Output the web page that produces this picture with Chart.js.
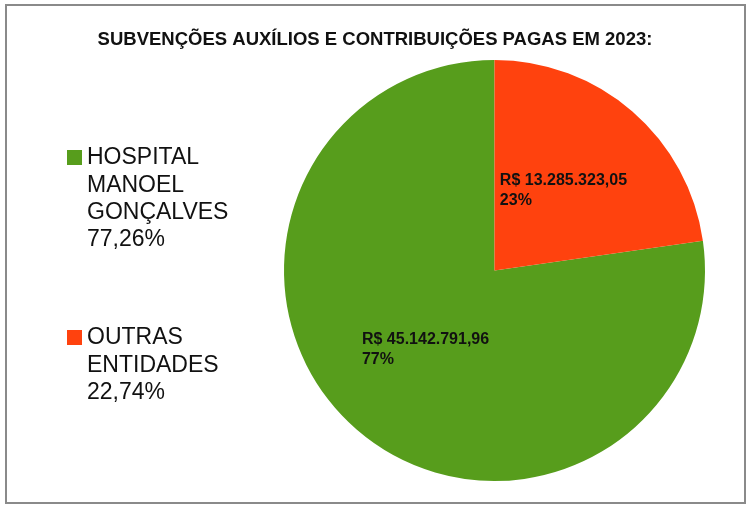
<!DOCTYPE html>
<html lang="pt-BR">
<head>
  <meta charset="UTF-8">
  <title>Subvenções auxílios e contribuições pagas em 2023</title>
  <script src="https://cdn.jsdelivr.net/npm/chart.js"></script>
  <style>
    html, body { margin: 0; padding: 0; background: #fff; }
    .wrap { position: relative; width: 750px; height: 517px; }
    .frame {
      position: absolute; left: 5px; top: 4px; width: 737px; height: 496px;
      border: 2px solid #8a8a8a; pointer-events: none;
    }
    canvas { position: absolute; left: 0; top: 0; }
  </style>
</head>
<body>
  <div class="wrap">
    <canvas id="pieChart" width="750" height="517"></canvas>
    <div class="frame"></div>
  </div>

  <script>
    // data
    const chartTitle = 'SUBVENÇÕES AUXÍLIOS E CONTRIBUIÇÕES PAGAS EM 2023:';
    const categories = ['HOSPITAL MANOEL GONÇALVES', 'OUTRAS ENTIDADES'];
    const legendLines = [['HOSPITAL', 'MANOEL', 'GONÇALVES'], ['OUTRAS', 'ENTIDADES']];
    const legendPercents = ['77,26%', '22,74%'];
    const values = [45142791.96, 13285323.05];
    const valueLabels = ['R$ 45.142.791,96', 'R$ 13.285.323,05'];
    const percentLabels = ['77%', '23%'];
    const colors = ['#579d1c', '#ff420e'];

    const total = values.reduce((a, b) => a + b, 0);

    // title centered on the whole page, not the pie area
    const pageTitle = {
      id: 'pageTitle',
      afterDraw(chart) {
        const ctx = chart.ctx;
        ctx.save();
        ctx.font = 'bold 18.5px "Liberation Sans", Arial, sans-serif';
        ctx.fillStyle = '#111';
        ctx.textAlign = 'center';
        ctx.textBaseline = 'alphabetic';
        ctx.fillText(chartTitle, chart.width / 2, 45);
        ctx.restore();
      }
    };

    // slice labels: value + percent, centered on each arc
    const sliceLabels = {
      id: 'sliceLabels',
      afterDatasetsDraw(chart) {
        const ctx = chart.ctx;
        const meta = chart.getDatasetMeta(0);
        ctx.save();
        ctx.font = 'bold 16px "Liberation Sans", Arial, sans-serif';
        ctx.fillStyle = '#111';
        ctx.textBaseline = 'middle';
        ctx.textAlign = 'left';
        meta.data.forEach((arc, i) => {
          const p = arc.getCenterPoint();
          const lines = [valueLabels[i], percentLabels[i]];
          const w = Math.max(...lines.map(l => ctx.measureText(l).width));
          const lh = 20;
          const top = p.y - lh * (lines.length - 1) / 2;
          lines.forEach((l, j) => ctx.fillText(l, p.x - w / 2, top + j * lh));
        });
        ctx.restore();
      }
    };

    // legend on the left with wrapped names
    const sideLegend = {
      id: 'sideLegend',
      afterDraw(chart) {
        const ctx = chart.ctx;
        const starts = [158, 338];
        ctx.save();
        ctx.font = '23px "Liberation Sans", Arial, sans-serif';
        ctx.textBaseline = 'middle';
        ctx.textAlign = 'left';
        categories.forEach((c, i) => {
          const y0 = starts[i];
          ctx.fillStyle = colors[i];
          ctx.fillRect(67, y0 - 8, 15, 15);
          ctx.fillStyle = '#111';
          const lines = legendLines[i].concat([legendPercents[i]]);
          lines.forEach((l, j) => ctx.fillText(l, 87, y0 + j * 27.3));
        });
        ctx.restore();
      }
    };

    new Chart(document.getElementById('pieChart'), {
      type: 'pie',
      data: {
        labels: categories,
        datasets: [{
          data: values,
          backgroundColor: colors,
          borderWidth: 0
        }]
      },
      options: {
        responsive: false,
        animation: false,
        rotation: 360 * values[1] / total,
        layout: { padding: { left: 284, right: 45, top: 60, bottom: 36 } },
        plugins: {
          legend: { display: false },
          tooltip: { enabled: false },
          title: { display: false }
        }
      },
      plugins: [sliceLabels, sideLegend, pageTitle]
    });
  </script>
</body>
</html>
